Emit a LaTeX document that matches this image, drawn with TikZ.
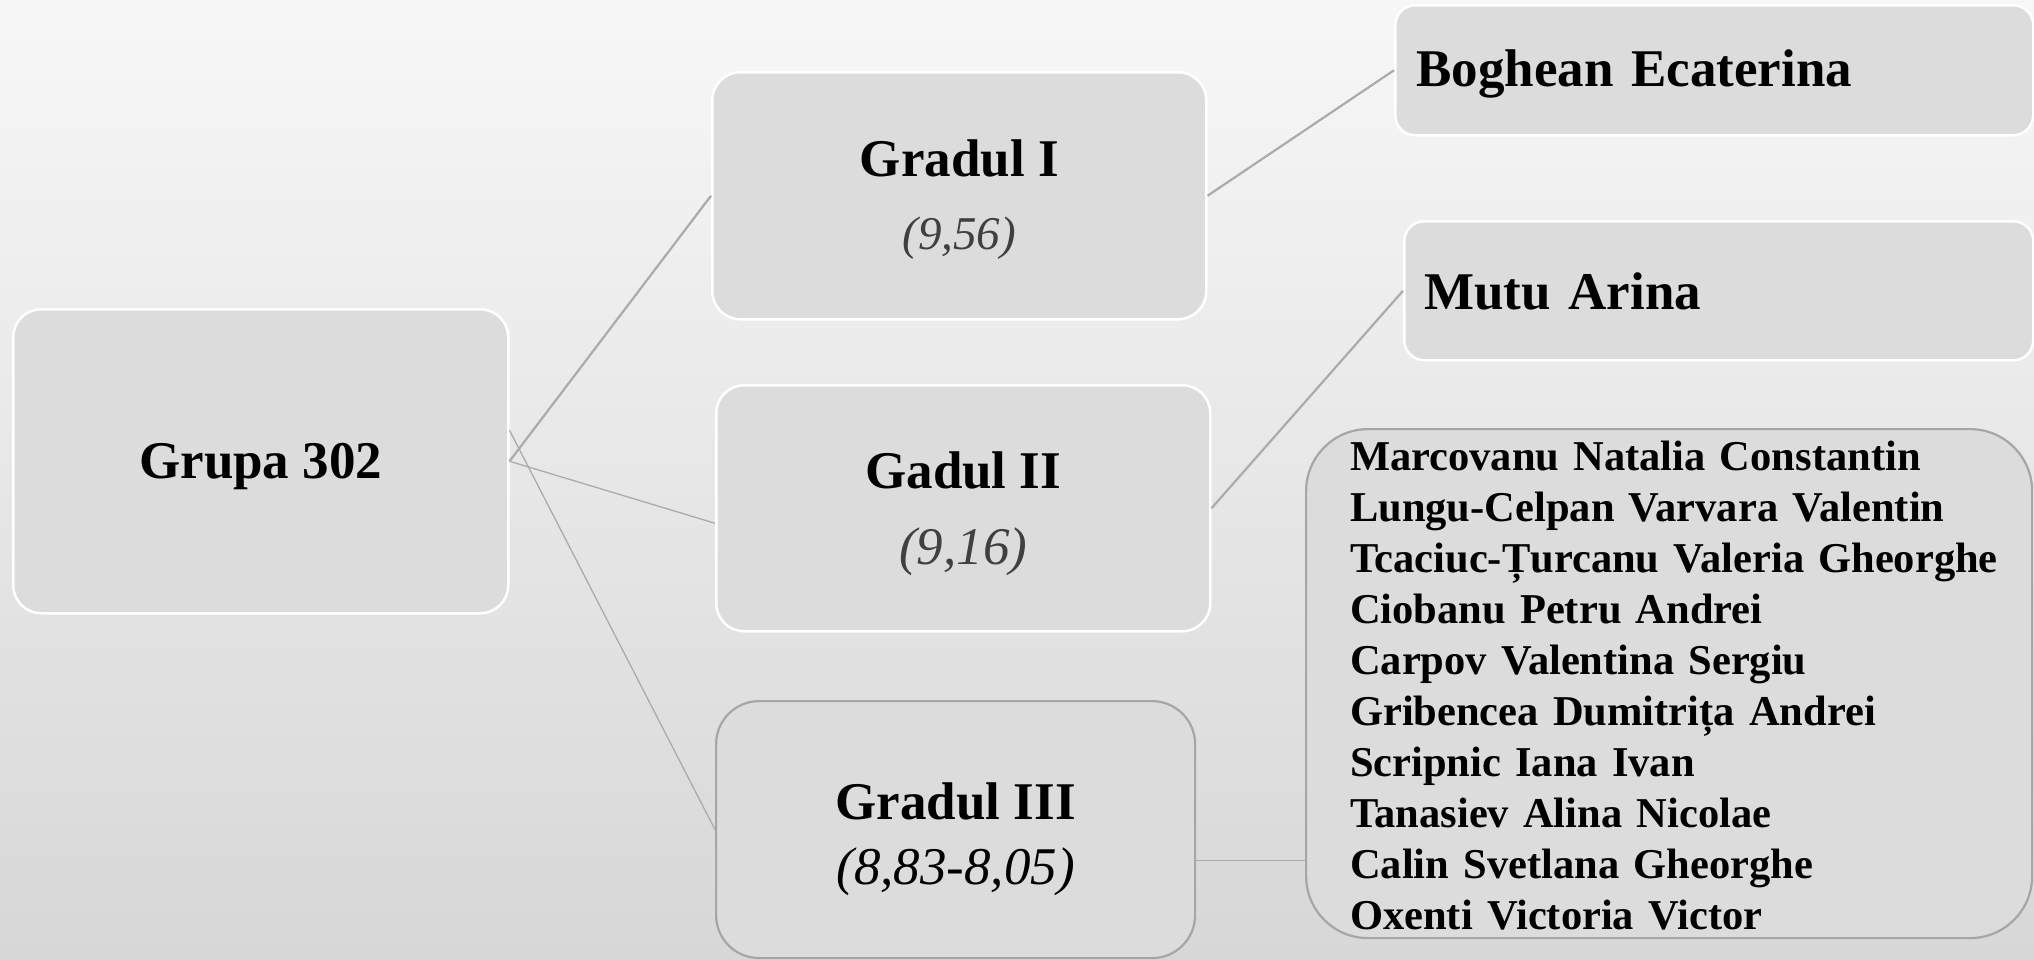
\documentclass[tikz,border=0pt]{standalone}
\usepackage{fontspec}
\setmainfont{Liberation Serif}
\definecolor{bgtop}{HTML}{F7F7F7}
\definecolor{bgmid}{HTML}{EFEFEF}
\definecolor{bgbot}{HTML}{D7D7D7}
\definecolor{boxfill}{HTML}{DCDCDC}
\definecolor{boxline}{HTML}{A6A6A6}
\definecolor{linegray}{HTML}{ABABAB}
\definecolor{numgray}{HTML}{404040}
\begin{document}
\begin{tikzpicture}[x=1pt,y=-1pt,
  wbox/.style={draw=white, line width=2.5pt, fill=boxfill, rounded corners=28pt, inner sep=0pt, anchor=north west},
  gbox/.style={draw=boxline, line width=2.2pt, fill=boxfill, inner sep=0pt, anchor=north west},
  conn/.style={draw=linegray, line width=2.2pt},
  thinconn/.style={draw=linegray, line width=1.3pt}
]
\useasboundingbox (0,0) rectangle (2034,959);
\shade[top color=bgtop, middle color=bgmid, bottom color=bgbot] (0,0) rectangle (2034,959);

\node[wbox, minimum width=495pt, minimum height=304pt, font=\fontsize{53}{64}\selectfont\bfseries, text height=34pt, text depth=0pt] (grupa) at (12,308) {Grupa 302};

\node[wbox, minimum width=494pt, minimum height=247pt, align=center, font=\fontsize{53}{73}\selectfont, text height=107pt, text depth=0pt] (g1) at (711,71)
  {{\bfseries Gradul I}\\{\fontsize{47}{73}\selectfont\itshape\color{numgray}(9,56)}};

\node[wbox, minimum width=494pt, minimum height=246pt, align=center, font=\fontsize{53}{76}\selectfont, text height=112pt, text depth=0pt] (g2) at (715,384)
  {{\bfseries Gadul II}\\{\itshape\color{numgray}(9,16)}};

\node[gbox, rounded corners=43pt, minimum width=479pt, minimum height=257pt, align=center, font=\fontsize{53}{65}\selectfont, text height=109pt, text depth=0pt] (g3) at (715,700)
  {{\bfseries Gradul III}\\{\itshape (8,83-8,05)}};

\node[wbox, rounded corners=20pt, minimum width=638pt, minimum height=130pt, inner xsep=21pt, text width=596pt, align=left, font=\fontsize{53}{64}\selectfont\bfseries, text height=32pt, text depth=0pt] (bog) at (1394,4) {Boghean Ecaterina};

\node[wbox, rounded corners=20pt, minimum width=629pt, minimum height=139pt, inner xsep=20pt, text width=589pt, align=left, font=\fontsize{53}{64}\selectfont\bfseries, text height=37pt, text depth=0pt] (mutu) at (1403,220) {Mutu Arina};

\node[gbox, rounded corners=62pt, minimum width=726pt, minimum height=509pt, inner xsep=44pt, text width=638pt, align=left, font=\fontsize{42.5}{51}\selectfont\bfseries, text height=32pt, text depth=459pt] (list) at (1305,428)
  {\mbox{Marcovanu Natalia Constantin}\\
   \mbox{Lungu-Celpan Varvara Valentin}\\
   \mbox{Tcaciuc-Țurcanu Valeria Gheorghe}\\
   \mbox{Ciobanu Petru Andrei}\\
   \mbox{Carpov Valentina Sergiu}\\
   \mbox{Gribencea Dumitrița Andrei}\\
   \mbox{Scripnic Iana Ivan}\\
   \mbox{Tanasiev Alina Nicolae}\\
   \mbox{Calin Svetlana Gheorghe}\\
   \mbox{Oxenti Victoria Victor}};

\coordinate (gtop) at ([yshift=31pt]grupa.east);
\coordinate (g2in) at ([yshift=-15pt]g2.west);
\coordinate (g3out) at ([yshift=-31pt]g3.east);

\draw[conn] (grupa.east) -- (g1.west);
\draw[thinconn] (grupa.east) -- (g2in);
\draw[thinconn] (gtop) -- (g3.west);
\draw[conn] (g1.east) -- (bog.west);
\draw[conn] (g2.east) -- (mutu.west);
\draw[thinconn] (g3out) -- (g3out -| list.west);
\end{tikzpicture}
\end{document}
